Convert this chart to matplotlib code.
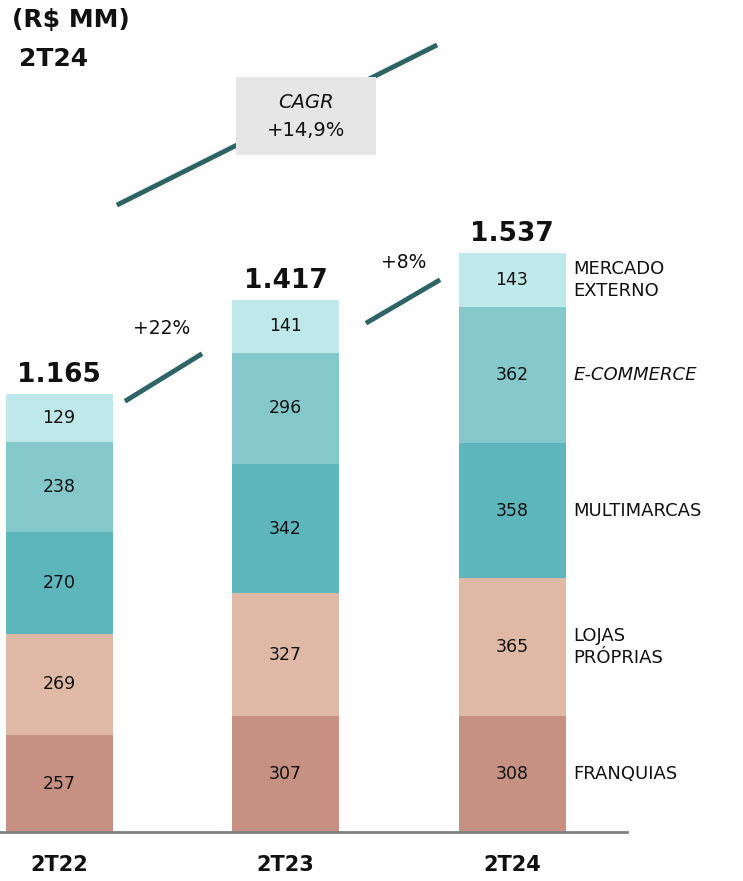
import matplotlib.pyplot as plt
import numpy as np

periodos = ["2T22", "2T23", "2T24"]
canais = ["FRANQUIAS", "LOJAS\nPRÓPRIAS", "MULTIMARCAS", "E-COMMERCE", "MERCADO\nEXTERNO"]
franquias = [257, 307, 308]
lojas = [269, 327, 365]
multimarcas = [270, 342, 358]
ecommerce = [238, 296, 362]
mercado_ext = [129, 141, 143]
totais = ["1.165", "1.417", "1.537"]
crescimento = ["+22%", "+8%"]
cagr = "+14,9%"

cores = ["#C69083", "#DFB9A5", "#5CB6BB", "#85C8CC", "#BEE8EA"]
linha_cor = "#2E6466"

plt.rcParams['font.family'] = ['DejaVu Sans']

W, H = 743, 881
fig = plt.figure(figsize=(W / 100, H / 100), dpi=100)
base_px = 832
ax = fig.add_axes([0, (H - base_px) / H, 1, base_px / H])
px_unit = 439 / 1165.0
ax.set_ylim(0, base_px / px_unit)
sp = 226.5
ax.set_xlim(-59 / sp, (W - 59) / sp)
ax.axis('off')

x = np.arange(len(periodos))
series = [franquias, lojas, multimarcas, ecommerce, mercado_ext]
bottom = np.zeros(len(periodos))
for vals, cor in zip(series, cores):
    vals = np.array(vals)
    ax.bar(x, vals, width=107 / sp, bottom=bottom, color=cor, edgecolor='none')
    for xi, b, v in zip(x, bottom, vals):
        ax.text(xi, b + v / 2, str(v), ha='center', va='center', fontsize=12.5, color='#111111')
    bottom = bottom + vals

for xi, top, t in zip(x, bottom, totais):
    ax.text(xi, top + 16, t, ha='center', va='bottom', fontsize=19, fontweight='bold', color='#111111')

# legenda à direita do último bar
b = 0
for vals, nome in zip(series, canais):
    v = vals[-1]
    ax.text(2 + 0.27, b + v / 2, nome, ha='left', va='center', fontsize=13,
            color='#111111', linespacing=1.25,
            style='italic' if nome == "E-COMMERCE" else 'normal')
    b += v

# linha do eixo
ax.plot([-59 / sp, (627 - 59) / sp], [0, 0], color='#808080', lw=2, clip_on=False)

# rótulos do eixo x
for xi, p in zip(x, periodos):
    fig.text((59 + xi * sp) / W, 1 - 865 / H, p, ha='center', va='center',
             fontsize=15, fontweight='bold', color='#111111')

def px(xp, yp):
    return xp / W, 1 - yp / H

# setas de crescimento
for (x0, y0, x1, y1), (tx, ty), lab in zip(
        [(127, 400, 200, 355), (368, 322, 438, 281)],
        [(162, 328), (404, 263)], crescimento):
    a, b_ = px(x0, y0)
    c, d = px(x1, y1)
    fig.add_artist(plt.Line2D([a, c], [b_, d], color=linha_cor, lw=3.5, transform=fig.transFigure))
    fig.text(*px(tx, ty), lab, ha='center', va='center', fontsize=13.5, color='#111111')

# CAGR
a, b_ = px(119, 204)
c, d = px(435, 46)
fig.add_artist(plt.Line2D([a, c], [b_, d], color=linha_cor, lw=3.5,
                          transform=fig.transFigure, zorder=1))
fig.add_artist(plt.Rectangle(px(236, 155), 140 / W, 78 / H, facecolor='#E6E6E6',
                             edgecolor='none', transform=fig.transFigure, zorder=2))
fig.text(*px(306, 102), "CAGR", ha='center', va='center', fontsize=14, style='italic',
         color='#111111', zorder=3)
fig.text(*px(306, 131), cagr, ha='center', va='center', fontsize=14, color='#111111', zorder=3)

# título
fig.text(*px(12, 20), "(R$ MM)", ha='left', va='center', fontsize=18, fontweight='bold', color='#111111')
fig.text(*px(19, 59), "2T24", ha='left', va='center', fontsize=18, fontweight='bold', color='#111111')

fig.savefig("out.png", dpi=100)
